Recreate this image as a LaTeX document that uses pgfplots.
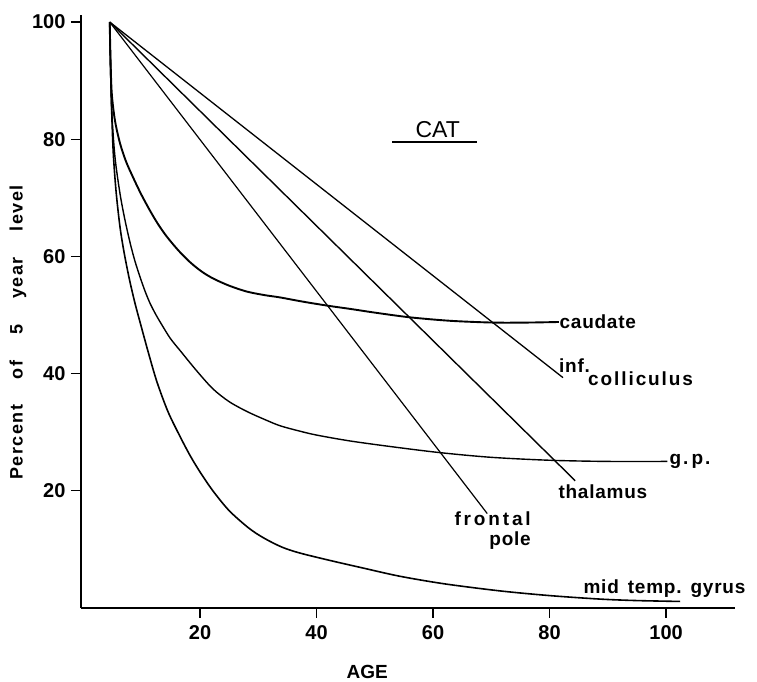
\documentclass[border=0pt]{standalone}
\usepackage{pgfplots}
\pgfplotsset{compat=1.18}
\usepackage{fontspec}
\setmainfont{Liberation Sans}
\newfontfamily\lbl[LetterSpace=4]{Liberation Sans}
\newfontfamily\lblw[LetterSpace=10]{Liberation Sans}
\newfontfamily\lblww[LetterSpace=15]{Liberation Sans}
\newfontfamily\ylbl[LetterSpace=8]{Liberation Sans}
\begin{document}
\begin{tikzpicture}
\begin{axis}[
  width=654pt, height=593pt, scale only axis,
  xmin=-0.43, xmax=111.8, ymin=0, ymax=101.2,
  axis lines=left,
  axis line style={-, line width=1.6pt},
  xtick={20,40,60,80,100}, ytick={20,40,60,80,100},
  tick align=outside, tick pos=left,
  major tick length=10pt,
  tick style={line width=1.3pt, black},
  /pgf/number format/assume math mode=true,
  ticklabel style={font=\fontsize{20}{22}\selectfont\bfseries},
  xticklabel style={yshift=-4pt},
  yticklabel style={xshift=-2pt},
  clip=false,
]
% frame for page size
\path (axis cs:-14.33,103.76) rectangle (axis cs:115.6,-12.48);

% straight lines
\addplot[black, line width=1.3pt] coordinates {(4.5,100) (82.3,39.3)};
\addplot[black, line width=1.4pt] coordinates {(4.5,100) (84.4,21.7)};
\addplot[black, line width=1.2pt] coordinates {(4.5,100) (69.3,16.1)};

% caudate
\addplot[black, line width=1.9pt, smooth] coordinates {
(4.5,100) (4.62,94.5) (4.84,88) (5.4,83.2) (6.27,79.3) (7.3,76.2) (8.55,73.4)
(9.9,70.6) (11.42,67.8) (12.8,65.5) (14.28,63.4) (16.3,61.0) (18.3,59.0)
(20.3,57.4) (22.3,56.2) (25,55.0) (28,54.0) (31,53.4) (33.7,53.0) (37.5,52.3)
(41.8,51.6) (46,51.0) (50,50.4) (56,49.6) (63,49.0) (70.3,48.7) (76,48.7) (81.6,48.8)};

% g.p.
\addplot[black, line width=1.4pt, smooth] coordinates {
(4.5,100) (4.6,94) (4.84,85) (5.4,77) (6.27,70.7) (7.1,66.3) (7.98,62.4)
(8.8,59.3) (9.7,56.5) (10.55,54.1) (11.42,52.0) (12.4,50.1) (13.4,48.4) (14.9,46.0)
(16.6,43.9) (19.4,40.5) (22.2,37.4) (25,35.2) (28.1,33.5) (31,32.2) (33.7,31.1)
(37,30.2) (40,29.5) (45.7,28.5) (53,27.5) (61.2,26.5) (70,25.7) (80,25.2)
(90,25.0) (100.2,25.0)};

% mid temp gyrus
\addplot[black, line width=1.6pt, smooth] coordinates {
(4.5,100) (4.65,92) (4.85,84.5) (5.12,77.5) (5.6,71) (6.27,65) (7.0,60.5)
(7.9,56) (8.84,52) (9.7,48.8) (11.1,43.7) (12.6,38.6) (14.5,33.5) (16.6,29.2)
(18.3,26.0) (20,23.2) (22.2,20.0) (25,16.6) (28.4,13.6) (31,11.9) (34,10.4)
(37,9.4) (42.3,8.1) (48,6.8) (54.3,5.4) (62,4.1) (71.5,2.9) (80,2.1) (88.7,1.5)
(95,1.25) (102.4,1.1)};

% labels
\node[anchor=west, inner sep=0.5pt, font=\lbl\fontsize{19}{21}\selectfont\bfseries] at (axis cs:81.6,48.8) {caudate};
\node[anchor=base west, inner sep=0pt, font=\lbl\fontsize{19}{21}\selectfont\bfseries] at (axis cs:81.6,40.2) {inf.};
\node[anchor=base west, inner sep=0pt, font=\lblw\fontsize{19}{21}\selectfont\bfseries] at (axis cs:86.6,37.9) {colliculus};
\node[anchor=west, inner sep=1pt, font=\lblw\fontsize{19}{21}\selectfont\bfseries] at (axis cs:100.4,25) {g.\,p.};
\node[anchor=base west, inner sep=0pt, font=\lbl\fontsize{19}{21}\selectfont\bfseries] at (axis cs:81.5,18.6) {thalamus};
\node[anchor=base east, inner sep=0pt, font=\lblww\fontsize{19}{21}\selectfont\bfseries] at (axis cs:76.8,14.0) {frontal};
\node[anchor=base east, inner sep=0pt, font=\lbl\fontsize{19}{21}\selectfont\bfseries] at (axis cs:76.8,10.6) {pole};
\node[anchor=base west, inner sep=0pt, font=\lbl\fontsize{19}{21}\selectfont\bfseries] at (axis cs:85.8,2.4) {mid\hspace{9pt}temp.\hspace{9pt}gyrus};

% CAT title
\node[anchor=base, inner sep=0pt, font=\fontsize{23}{25}\selectfont] at (axis cs:60.8,80.3) {CAT};
\draw[line width=1.5pt] (axis cs:53.0,79.5) -- (axis cs:67.6,79.5);

% axis labels
\node[anchor=north, inner sep=0pt, font=\fontsize{19}{21}\selectfont\bfseries] at (axis cs:48.7,-9.75) {AGE};
\node[rotate=90, anchor=center, inner sep=0pt, font=\ylbl\fontsize{18}{20}\selectfont\bfseries] at (axis cs:-11.25,47.0) {Percent\hspace{26pt}of\hspace{26pt}5\hspace{26pt}year\hspace{26pt}level};
\end{axis}
\end{tikzpicture}
\end{document}
